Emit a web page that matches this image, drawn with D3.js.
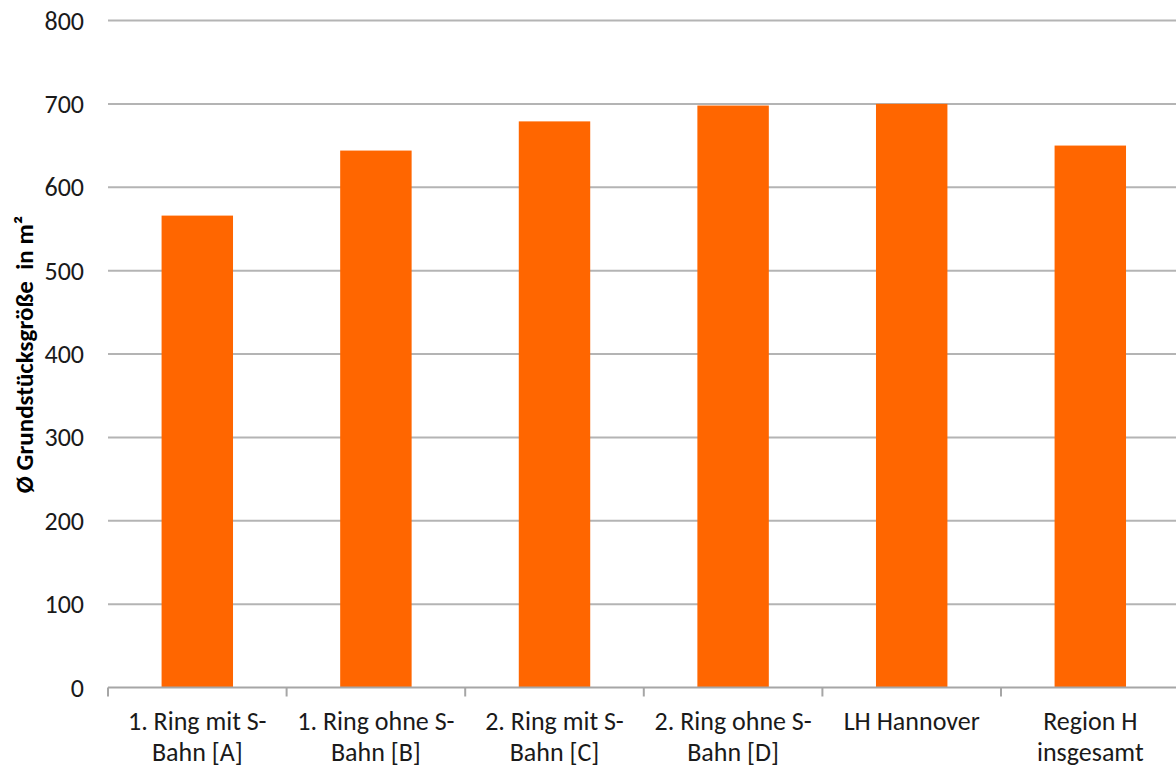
<!DOCTYPE html>
<html><head><meta charset="utf-8">
<script src="https://cdn.jsdelivr.net/npm/d3@7"></script>
<style>
html,body{margin:0;padding:0;background:#fff;overflow:hidden;}
svg{display:block;font-family:Carlito,Calibri,Lato,"Open Sans",sans-serif;}
</style></head>
<body>
<svg id="chart" width="1176" height="765"></svg>
<script>
const categories = [
  ["1. Ring mit S-", "Bahn [A]"],
  ["1. Ring ohne S-", "Bahn [B]"],
  ["2. Ring mit S-", "Bahn [C]"],
  ["2. Ring ohne S-", "Bahn [D]"],
  ["LH Hannover"],
  ["Region H", "insgesamt"]
];
const values = [566, 644, 679, 698, 700, 650];
const yTicks = [0, 100, 200, 300, 400, 500, 600, 700, 800];
const yTitle = "Ø Grundstücksgröße  in m²";

const svg = d3.select("#chart");
const W = 1176, H = 765;
const x0 = 108, step = 178.6, yTop = 20.5, yBottom = 687.5;
const ids = categories.map((c, i) => i);

const x = d3.scaleBand().domain(ids).range([x0, x0 + step * ids.length])
  .paddingInner(0.6).paddingOuter(0.3);
const y = d3.scaleLinear().domain([0, 800]).range([yBottom, yTop]);

// gridlines
svg.append("g").selectAll("line").data(yTicks.filter(d => d > 0)).join("line")
  .attr("x1", x0).attr("x2", W)
  .attr("y1", d => y(d)).attr("y2", d => y(d))
  .attr("stroke", "#b4b4b4").attr("stroke-width", 2);

// y tick labels
svg.append("g").selectAll("text").data(yTicks).join("text")
  .attr("x", 84).attr("y", d => y(d)).attr("dy", "0.35em")
  .attr("text-anchor", "end").attr("font-size", 26).attr("fill", "#1a1a1a")
  .text(d => d);

// bars
svg.append("g").selectAll("rect").data(values).join("rect")
  .attr("x", (d, i) => x(i)).attr("width", x.bandwidth())
  .attr("y", d => y(d)).attr("height", d => y(0) - y(d))
  .attr("fill", "#ff6600");

// x axis line + ticks
const bounds = ids.map(i => x0 + i * step).concat([x0 + step * ids.length]);
svg.append("line").attr("x1", x0).attr("x2", W).attr("y1", yBottom).attr("y2", yBottom)
  .attr("stroke", "#a6a6a6").attr("stroke-width", 2);
svg.append("g").selectAll("line").data(bounds).join("line")
  .attr("x1", d => d).attr("x2", d => d).attr("y1", yBottom).attr("y2", yBottom + 9)
  .attr("stroke", "#a6a6a6").attr("stroke-width", 2);

// category labels
const lab = svg.append("g").selectAll("text").data(categories).join("text")
  .attr("x", (d, i) => x(i) + x.bandwidth() / 2).attr("y", 730)
  .attr("text-anchor", "middle").attr("font-size", 26).attr("fill", "#1a1a1a");
lab.selectAll("tspan").data(d => d).join("tspan")
  .attr("x", function() { return d3.select(this.parentNode).attr("x"); })
  .attr("dy", (d, i) => i === 0 ? 0 : 31)
  .text(d => d);

// y title
svg.append("text").attr("transform", "translate(33,354.5) rotate(-90)")
  .attr("text-anchor", "middle").attr("font-size", 25).attr("font-weight", "bold")
  .style("white-space", "pre")
  .attr("fill", "#000").text(yTitle);
</script>
</body></html>
